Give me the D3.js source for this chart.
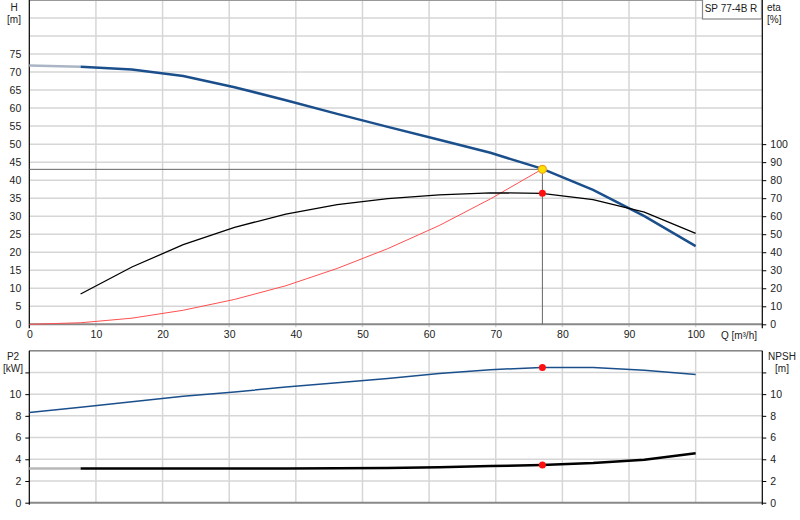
<!DOCTYPE html>
<html>
<head>
<meta charset="utf-8">
<script src="https://cdn.jsdelivr.net/npm/d3@7"></script>
<style>
  body { margin: 0; background: #fff; }
  text { font-family: 'Liberation Sans', Arial, sans-serif; font-size: 10px; fill: #222; }
  .domain { display: none; }
</style>
</head>
<body>
<div id="chart"></div>
<script>
// flow points of the curves, m3/h
const flow = [7.7, 15.4, 23.1, 30.8, 38.5, 46.2, 53.8, 61.5, 69.2, 76.9, 84.6, 92.3, 100];
const head = [71.5, 70.7, 68.9, 65.8, 62.2, 58.4, 54.8, 51.2, 47.6, 43.2, 37.3, 30.0, 21.7];
const headStart = [[0, 71.8], [7.7, 71.5]];
const eta = [16.8, 31.8, 44.2, 53.8, 61.2, 66.4, 69.8, 71.8, 73.0, 72.7, 69.2, 62.3, 50.5];
const systemFlow = [0, 7.7, 15.4, 23.1, 30.8, 38.5, 46.2, 53.8, 61.5, 69.2, 76.9];
const systemHead = [0, 0.43, 1.7, 3.9, 6.9, 10.7, 15.5, 21.0, 27.4, 34.8, 43.0];
const p2Flow = [0, 7.7, 15.4, 23.1, 30.8, 38.5, 46.2, 53.8, 61.5, 69.2, 76.9, 84.6, 92.3, 100];
const p2 = [8.3, 8.8, 9.3, 9.8, 10.2, 10.65, 11.05, 11.45, 11.9, 12.25, 12.45, 12.45, 12.2, 11.8];
const npsh = [3.15, 3.15, 3.15, 3.15, 3.15, 3.17, 3.2, 3.27, 3.37, 3.48, 3.65, 3.95, 4.55];
const npshStart = [[0, 3.15], [7.7, 3.15]];
const duty = { q: 77, h: 43, eta: 72.7, p2: 12.45, npsh: 3.48 };

const qTicks = [0, 10, 20, 30, 40, 50, 60, 70, 80, 90, 100];
const hTicks = [0, 5, 10, 15, 20, 25, 30, 35, 40, 45, 50, 55, 60, 65, 70, 75];
const hGrid = [5, 10, 15, 20, 25, 30, 35, 40, 45, 50, 55, 60, 65, 70, 75, 80, 85, 90];
const etaTicks = [0, 10, 20, 30, 40, 50, 60, 70, 80, 90, 100];
const pTicks = [0, 2, 4, 6, 8, 10, 12];
const pGrid = [2, 4, 6, 8, 10, 12, 14];
const title = 'SP 77-4B R';

const left = 29.3, right = 762.3;
const top1 = 0, bottom1 = 324.3;
const top2 = 350.7, bottom2 = 502.7;

const svg = d3.select('#chart').append('svg').attr('width', 800).attr('height', 520);

const x = d3.scaleLinear().domain([0, 110]).range([left, right]);
const yH = d3.scaleLinear().domain([0, 90]).range([bottom1, top1]);
const yEta = d3.scaleLinear().domain([0, 180]).range([bottom1, top1]);
const yP = d3.scaleLinear().domain([0, 14]).range([bottom2, top2]);

const gridColor = '#d6d6d6';
const blue = '#1b4f8c';

// grids
const grid = (yScale, values, y0, y1) => {
  svg.append('g').selectAll('line').data(values).enter().append('line')
    .attr('x1', left).attr('x2', right)
    .attr('y1', (d) => yScale(d)).attr('y2', (d) => yScale(d))
    .attr('stroke', gridColor).attr('stroke-width', 1.5);
  svg.append('g').selectAll('line').data(qTicks.slice(1)).enter().append('line')
    .attr('x1', (d) => x(d)).attr('x2', (d) => x(d))
    .attr('y1', y0).attr('y2', y1)
    .attr('stroke', gridColor).attr('stroke-width', 1.5);
};
grid(yH, hGrid, top1, bottom1 + 3);
grid(yP, pGrid, top2, bottom2);

// frame lines
svg.append('line').attr('x1', left).attr('x2', right).attr('y1', top1 + 0.5).attr('y2', top1 + 0.5)
  .attr('stroke', '#999').attr('stroke-width', 1);
svg.append('line').attr('x1', left).attr('x2', right).attr('y1', top2).attr('y2', top2)
  .attr('stroke', '#888').attr('stroke-width', 1.5);
svg.append('line').attr('x1', left).attr('x2', right).attr('y1', bottom1).attr('y2', bottom1)
  .attr('stroke', '#888').attr('stroke-width', 2);
svg.append('line').attr('x1', left).attr('x2', right).attr('y1', bottom2).attr('y2', bottom2)
  .attr('stroke', '#888').attr('stroke-width', 2);
[left, right].forEach((px) => {
  svg.append('line').attr('x1', px).attr('x2', px).attr('y1', top1).attr('y2', bottom1 + 4)
    .attr('stroke', '#000').attr('stroke-width', 1.2);
  svg.append('line').attr('x1', px).attr('x2', px).attr('y1', top2).attr('y2', bottom2 + 2)
    .attr('stroke', '#000').attr('stroke-width', 1.2);
});

// axes
svg.append('g').attr('transform', 'translate(' + left + ',0)')
  .call(d3.axisLeft(yH).tickValues(hTicks).tickSize(0).tickPadding(8));
svg.append('g').attr('transform', 'translate(' + right + ',0)')
  .call(d3.axisRight(yEta).tickValues(etaTicks).tickSize(4).tickPadding(4));
svg.append('g').attr('transform', 'translate(0,' + bottom1 + ')')
  .call(d3.axisBottom(x).tickValues(qTicks).tickSize(0).tickPadding(6));
svg.append('g').attr('transform', 'translate(' + left + ',0)')
  .call(d3.axisLeft(yP).tickValues(pTicks).tickSize(4).tickPadding(4)
    .tickFormat((d) => (d === 12 ? '' : d)));
svg.append('g').attr('transform', 'translate(' + right + ',0)')
  .call(d3.axisRight(yP).tickValues(pTicks).tickSize(4).tickPadding(4)
    .tickFormat((d) => (d === 12 ? '' : d)));
svg.selectAll('.tick line').attr('stroke', '#000');
svg.selectAll('.tick text').attr('fill', '#222').style('font-size', '10.5px');

// axis titles
const label = (tx, ty, t, anchor) =>
  svg.append('text').attr('x', tx).attr('y', ty).attr('text-anchor', anchor || 'middle').text(t);
label(14, 11, 'H');
label(14, 23, '[m]');
label(767, 11, 'eta', 'start');
label(767, 23, '[%]', 'start');
label(757, 339, 'Q [m³/h]', 'end');
label(13, 360, 'P2');
label(13, 372, '[kW]');
label(782, 360, 'NPSH');
label(782, 372, '[m]');

// title box
svg.append('rect').attr('x', 702.5).attr('y', -1).attr('width', 59).attr('height', 20)
  .attr('fill', '#fff').attr('stroke', '#888').attr('stroke-width', 1.2);
label(731, 12, title);

// operating point guides
svg.append('line').attr('x1', left).attr('x2', x(duty.q)).attr('y1', yH(duty.h)).attr('y2', yH(duty.h))
  .attr('stroke', '#666').attr('stroke-width', 1);
svg.append('line').attr('x1', x(duty.q)).attr('x2', x(duty.q)).attr('y1', yH(duty.h)).attr('y2', bottom1)
  .attr('stroke', '#666').attr('stroke-width', 1);

const line = (yScale) => d3.line().x((d) => x(d[0])).y((d) => yScale(d[1]));

// system curve
svg.append('path').datum(systemFlow.map((q, i) => [q, systemHead[i]]))
  .attr('fill', 'none').attr('stroke', '#ff5050').attr('stroke-width', 1)
  .attr('d', line(yH));

// head curve
svg.append('path').datum(headStart)
  .attr('fill', 'none').attr('stroke', '#aab5c6').attr('stroke-width', 2.5)
  .attr('d', line(yH));
svg.append('path').datum(flow.map((q, i) => [q, head[i]]))
  .attr('fill', 'none').attr('stroke', blue).attr('stroke-width', 2.5)
  .attr('d', line(yH));

// efficiency
svg.append('path').datum(flow.map((q, i) => [q, eta[i]]))
  .attr('fill', 'none').attr('stroke', '#000').attr('stroke-width', 1.3)
  .attr('d', line(yEta));

// power
svg.append('path').datum(p2Flow.map((q, i) => [q, p2[i]]))
  .attr('fill', 'none').attr('stroke', blue).attr('stroke-width', 1.5)
  .attr('d', line(yP));

// npsh
svg.append('path').datum(npshStart)
  .attr('fill', 'none').attr('stroke', '#b8b8b8').attr('stroke-width', 2.5)
  .attr('d', line(yP));
svg.append('path').datum(flow.map((q, i) => [q, npsh[i]]))
  .attr('fill', 'none').attr('stroke', '#000').attr('stroke-width', 2.5)
  .attr('d', line(yP));

// duty markers
const dots = [[duty.q, yEta(duty.eta)], [duty.q, yP(duty.p2)], [duty.q, yP(duty.npsh)]];
svg.append('g').selectAll('circle').data(dots).enter().append('circle')
  .attr('cx', (d) => x(d[0])).attr('cy', (d) => d[1]).attr('r', 3.5)
  .attr('fill', '#ff1010');
svg.append('circle').attr('cx', x(duty.q)).attr('cy', yH(duty.h)).attr('r', 4)
  .attr('fill', '#ffe000').attr('stroke', '#f0a020').attr('stroke-width', 1.2);
</script>
</body>
</html>
